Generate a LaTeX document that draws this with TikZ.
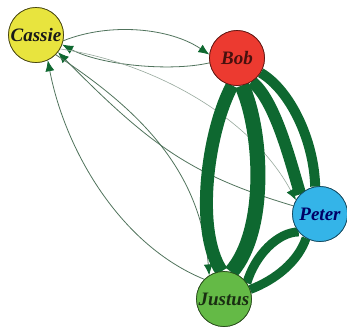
\documentclass[tikz,border=0pt]{standalone}
\usepackage{fontspec}
\setmainfont{Liberation Serif}
\usetikzlibrary{arrows.meta}
\definecolor{edgegreen}{RGB}{14,104,48}
\definecolor{thinline}{RGB}{80,115,92}
\definecolor{lightline}{RGB}{150,168,156}
\definecolor{cassiefill}{RGB}{232,228,62}
\definecolor{bobfill}{RGB}{236,58,48}
\definecolor{peterfill}{RGB}{52,180,232}
\definecolor{justusfill}{RGB}{100,186,70}
\tikzset{
  person/.style={circle, minimum size=55pt, inner sep=0pt, line width=0.7pt,
    font=\fontsize{19}{22}\selectfont\bfseries\itshape},
  cassie/.style={person, fill=cassiefill, draw=black!70!cassiefill, text=black!90},
  bob/.style={person, fill=bobfill, draw=black!60!bobfill, text=black!70!bobfill},
  peter/.style={person, fill=peterfill, draw=black!60!peterfill, text=blue!40!black},
  justus/.style={person, fill=justusfill, draw=black!60!justusfill, text=black!75!justusfill},
  headtip/.tip={Latex[length=11pt,width=9pt,color=edgegreen]},
  thinedge/.style={draw=thinline, line width=0.8pt, -headtip},
  heavy/.style={draw=edgegreen, line cap=butt}
}
\begin{document}
\begin{tikzpicture}[x=1pt, y=-1pt]
  \useasboundingbox (0,0) rectangle (347,327);

  % people
  \node[cassie] (C) at (36,35) {Cassie};
  \node[bob] (B) at (237,58) {Bob};
  \node[peter] (P) at (320,214) {Peter};
  \node[justus] (J) at (224,299) {Justus};

  % thin directed links
  \draw[thinedge] (C.-12) .. controls (110,22) and (170,28) .. (B.173);
  \draw[thinedge] (B.190) .. controls (170,72) and (100,65) .. (C.-20);
  \draw[thinedge, draw=lightline, line width=0.6pt] (C.-30) .. controls (150,62) and (250,115) .. (P.150);
  \draw[thinedge] (P.163) .. controls (190,175) and (150,145) .. (C.-38);
  \draw[thinedge] (C.-45) .. controls (140,110) and (200,170) .. (J.122);
  \draw[thinedge] (J.135) .. controls (120,245) and (65,150) .. (C.-65);

  % heavy links
  \draw[heavy, line width=13pt] (B.-100) .. controls (208,130) and (194,230) .. (J.95);
  \draw[heavy, line width=15pt] (B.-80) .. controls (262,130) and (268,230) .. (J.75);
  \draw[heavy, line width=12pt] (B.-58) .. controls (275,100) and (290,160) .. (P.135);
  \draw[heavy, line width=10pt] (B.-32) .. controls (290,90) and (314,140) .. (P.100);
  \draw[heavy, line width=9pt] (P.-140) .. controls (278,232) and (255,255) .. (J.35);
  \draw[heavy, line width=9pt] (P.-120) .. controls (298,262) and (275,280) .. (J.20);

  % people drawn again above the links
  \node[cassie] at (C) {Cassie};
  \node[bob] at (B) {Bob};
  \node[peter] at (P) {Peter};
  \node[justus] at (J) {Justus};
\end{tikzpicture}
\end{document}
